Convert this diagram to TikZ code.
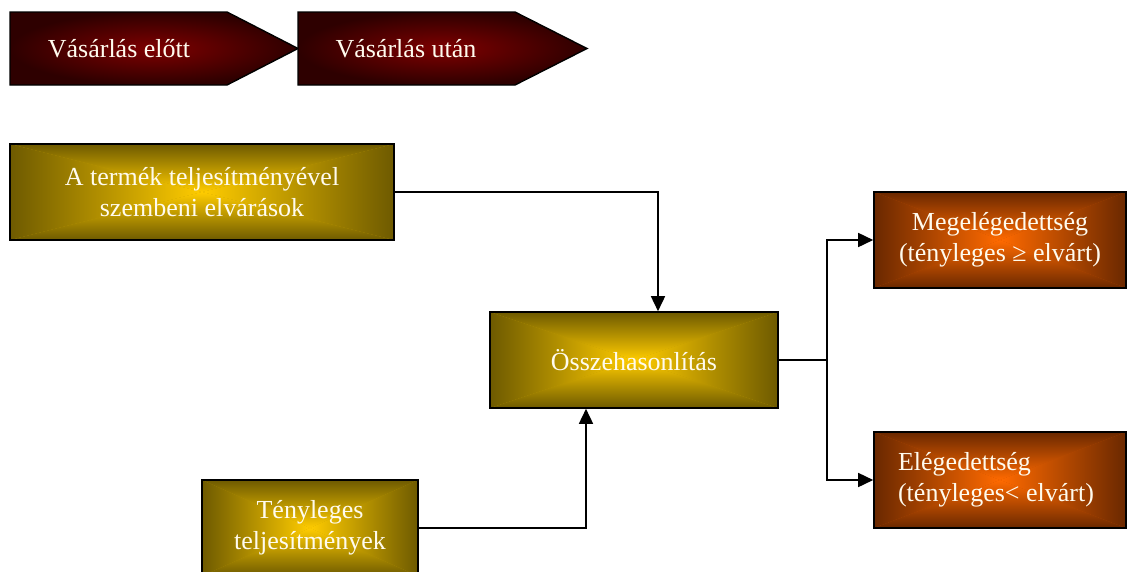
\documentclass[tikz,border=0pt]{standalone}
\usepackage{fontspec}
\setmainfont{Liberation Serif}
\usetikzlibrary{arrows.meta}

\definecolor{redEdge}{HTML}{2E0000}
\definecolor{redMid}{HTML}{7E0000}
\definecolor{goldEdge}{HTML}{6E5A00}
\definecolor{goldMid}{HTML}{FFCC00}
\definecolor{orEdge}{HTML}{6A2800}
\definecolor{orMid}{HTML}{FF6A00}
\definecolor{lightText}{HTML}{FFFBEE}

\tikzset{
  % rectangle shaded from its edges towards a bright centre (four wedges)
  grad box/.style 2 args={
    draw=black, line width=1.6pt, inner sep=0pt,
    text=lightText, align=center,
    font=\fontsize{26}{31}\selectfont,
    path picture={
      \fill[#2!55!#1] (path picture bounding box.north west)
        rectangle (path picture bounding box.south east);
      \shade[top color=#1, middle color=#2!65!#1, bottom color=#2]
        (path picture bounding box.north west) -- (path picture bounding box.north east)
        -- (path picture bounding box.center) -- cycle;
      \shade[top color=#2, middle color=#2!65!#1, bottom color=#1]
        (path picture bounding box.south west) -- (path picture bounding box.south east)
        -- (path picture bounding box.center) -- cycle;
      \shade[left color=#1, middle color=#2!65!#1, right color=#2]
        (path picture bounding box.north west) -- (path picture bounding box.south west)
        -- (path picture bounding box.center) -- cycle;
      \shade[left color=#2, middle color=#2!65!#1, right color=#1]
        (path picture bounding box.north east) -- (path picture bounding box.south east)
        -- (path picture bounding box.center) -- cycle;
    }},
  gold box/.style={grad box={goldEdge}{goldMid}},
  orange box/.style={grad box={orEdge}{orMid}},
  phase/.style={draw=black, line width=1.4pt, inner color=redMid, outer color=redEdge},
  phase label/.style={text=lightText, font=\fontsize{26}{30}\selectfont, inner sep=0pt},
  link/.style={line width=1.6pt, -{Triangle[length=15pt,width=14pt]}},
}

\begin{document}
\begin{tikzpicture}[x=1pt, y=-1pt]
\useasboundingbox (0,0) rectangle (1128,571);
\clip (0,0) rectangle (1128,571);

% phase arrows
\shade[phase] (10,12) -- (227,12) -- (298,48.5) -- (227,85) -- (10,85) -- cycle;
\shade[phase] (298,12) -- (515,12) -- (587,48.5) -- (515,85) -- (298,85) -- cycle;
\node[phase label] (before) at (119,48.5) {Vásárlás előtt};
\node[phase label] (after) at (406,48.5) {Vásárlás után};

% boxes
\node[gold box, minimum width=384pt, minimum height=96pt] (expect) at (202,192)
  {A termék teljesítményével\\szembeni elvárások};
\node[gold box, minimum width=288pt, minimum height=96pt] (compare) at (634,360)
  {Összehasonlítás};
\node[gold box, minimum width=216pt, minimum height=96pt] (actual) at (310,528)
  {Tényleges\\teljesítmények};
\node[orange box, minimum width=252pt, minimum height=96pt] (over) at (1000,240)
  {Megelégedettség\\(tényleges ≥ elvárt)};
\node[orange box, minimum width=252pt, minimum height=96pt, align=left] (under) at (1000,480)
  {\hspace*{-8pt}Elégedettség\\\hspace*{-8pt}(tényleges< elvárt)};

% connectors
\coordinate (split) at ([xshift=48pt]compare.east);
\draw[link] (expect.east) -| ([xshift=24pt]compare.north);
\draw[link] (actual.east) -| ([xshift=-48pt]compare.south);
\draw[line width=1.6pt] (compare.east) -- (split);
\draw[link] (split) |- (over.west);
\draw[link] (split) |- (under.west);
\end{tikzpicture}
\end{document}
